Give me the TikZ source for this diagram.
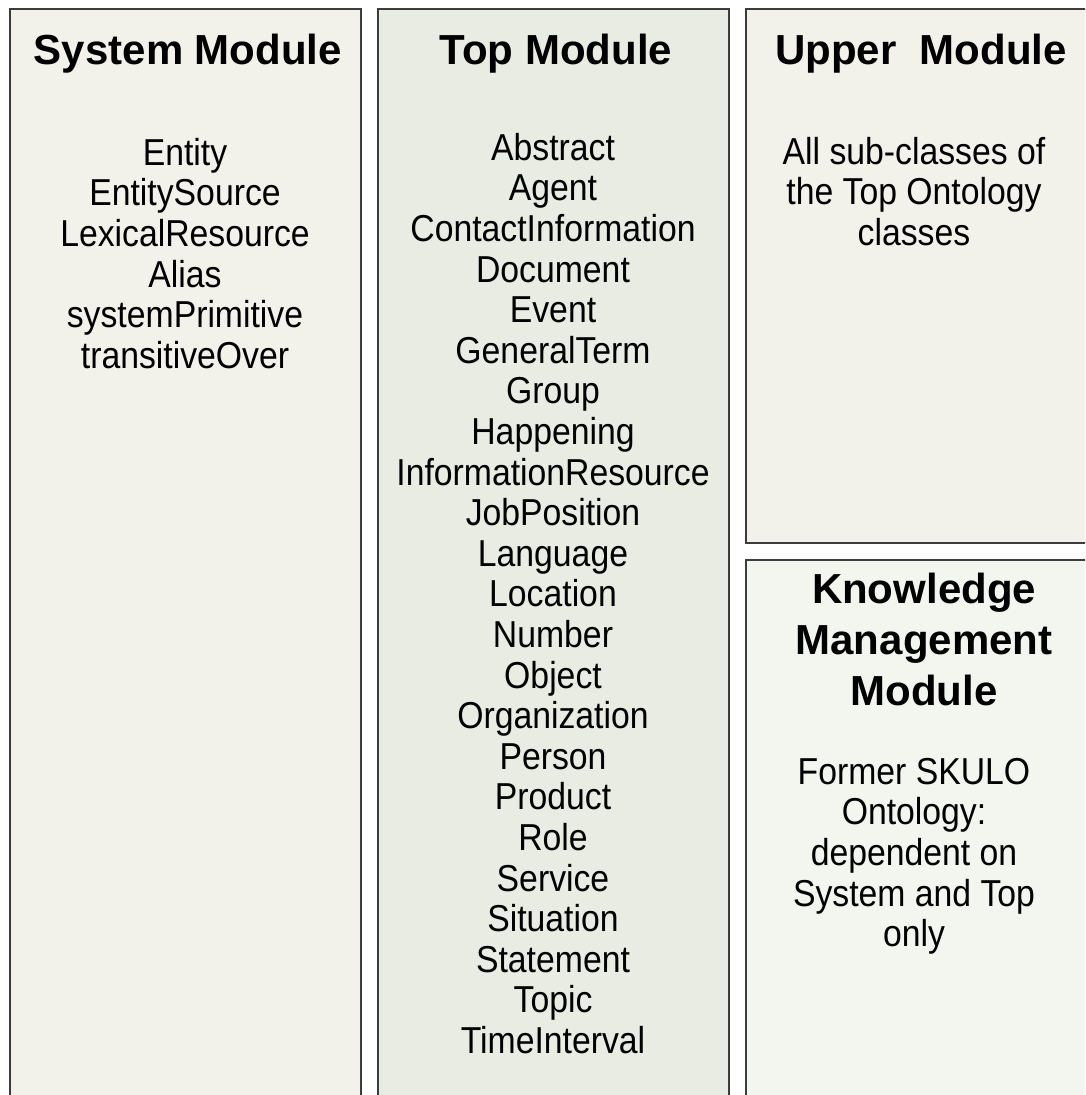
\documentclass[tikz,border=0pt]{standalone}
\usepackage{fontspec}
\setmainfont{Liberation Sans}
\newfontfamily\bodyf[FakeStretch=0.9]{Liberation Sans}
\definecolor{sysfill}{HTML}{F2F2EA}
\definecolor{topfill}{HTML}{E9ECE2}
\definecolor{upfill}{HTML}{F2F2EA}
\definecolor{kmfill}{HTML}{F3F6EF}
\definecolor{edge}{HTML}{3C3C3C}
\tikzset{
  modbox/.style={draw=edge, line width=2pt},
  modtitle/.style={font=\fontsize{42}{51}\selectfont\bfseries, align=center, inner sep=0pt, anchor=north},
  modbody/.style={font=\bodyf\fontsize{37.5}{40.6}\selectfont, align=center, inner sep=0pt, anchor=north}
}
\begin{document}
\begin{tikzpicture}[x=1pt,y=-1pt]
\useasboundingbox (0,0) rectangle (1085,1095);
\clip (0,0) rectangle (1085,1095);
\fill[white] (0,0) rectangle (1085,1095);
% boxes
\draw[modbox, fill=sysfill] (10,9) rectangle (361,1110);
\draw[modbox, fill=topfill] (378,9) rectangle (729,1110);
\draw[modbox, fill=upfill] (746,9) rectangle (1100,543);
\draw[modbox, fill=kmfill] (746,560) rectangle (1100,1110);
% titles
\node[modtitle] (systitle) at (188,34) {System Module};
\node[modtitle] (toptitle) at (556,34) {Top Module};
\node[modtitle] (uptitle) at (921,34) {Upper\ \ Module};
\node[modtitle] (kmtitle) at (924,573) {Knowledge\\Management\\Module};
% bodies
\node[modbody] (sysbody) at (185,138) {Entity\\EntitySource\\LexicalResource\\Alias\\systemPrimitive\\transitiveOver};
\node[modbody] (topbody) at (553,133) {Abstract\\Agent\\ContactInformation\\Document\\Event\\GeneralTerm\\Group\\Happening\\InformationResource\\JobPosition\\Language\\Location\\Number\\Object\\Organization\\Person\\Product\\Role\\Service\\Situation\\Statement\\Topic\\TimeInterval};
\node[modbody] (upbody) at (914,137) {All sub-classes of\\the Top Ontology\\classes};
\node[modbody] (kmbody) at (914,758) {Former SKULO\\Ontology:\\dependent on\\System and Top\\only};
\end{tikzpicture}
\end{document}
